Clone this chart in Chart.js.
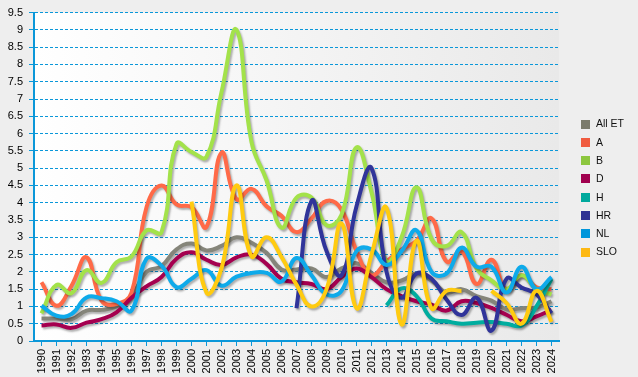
<!DOCTYPE html>
<html>
<head>
<meta charset="utf-8">
<script src="https://cdn.jsdelivr.net/npm/chart.js@4.4.0/dist/chart.umd.min.js"></script>
<style>
  html, body { margin: 0; padding: 0; background: #eeeeee; }
  #wrap { width: 638px; height: 377px; }
</style>
</head>
<body>
<div id="wrap"><canvas id="etChart" width="638" height="377"></canvas></div>
<script>
// Years on the x axis
const years = [];
for (let y = 1990; y <= 2024; y++) years.push(String(y));

// Series names (legend order)
const seriesLabels = ['All ET', 'A', 'B', 'D', 'H', 'HR', 'NL', 'SLO'];

// Values, 1990 -> 2024 (null = no data)
const allEt = [0.65, 0.65, 0.63, 0.88, 0.9, 1.0, 1.3, 2.0, 2.17, 2.65, 2.82, 2.62, 2.75, 3.0, 2.84, 2.55, 2.07, 2.07, 2.1, 1.85,
    2.1, 2.25, 1.97, 1.7, 1.75, 1.95, 1.75, 1.4, 1.5, 1.3, 1.17, 0.92, 0.95, 0.97, 1.15];
const valA = [1.7, 1.02, 1.6, 2.42, 1.17, 1.07, 1.4, 3.87, 4.5, 3.95, 3.87, 3.3, 5.45, 4.1, 4.4, 3.9, 3.62, 3.15, 3.55, 4.05,
    3.8, 2.6, 1.9, 2.3, 2.65, 2.9, 3.55, 2.3, 2.6, 1.65, 2.35, 1.48, 1.9, 1.55, 1.5];
const valB = [0.8, 1.62, 1.38, 2.05, 1.68, 2.28, 2.45, 3.2, 3.15, 5.7, 5.47, 5.33, 7.2, 9.0, 5.75, 4.65, 3.28, 4.15, 4.15, 3.35,
    3.65, 5.6, 4.3, 2.3, 3.0, 4.45, 2.95, 2.75, 3.15, 2.1, 1.75, 1.5, 1.9, 1.5, 1.35];
const valD = [0.45, 0.48, 0.38, 0.53, 0.63, 0.83, 1.25, 1.58, 1.85, 2.38, 2.57, 2.35, 2.2, 2.42, 2.5, 2.23, 1.8, 1.7, 1.65, 1.5,
    1.85, 2.1, 1.85, 1.5, 1.3, 1.15, 1.05, 0.88, 1.15, 1.1, 0.96, 0.76, 0.57, 0.71, 0.9];
const valH = [null, null, null, null, null, null, null, null, null, null, null, null, null, null, null, null, null, null, null, null,
    null, null, null, 1.03, 1.52, 1.3, 0.65, 0.57, 0.5, 0.53, 0.55, 0.5, 0.45, 1.0, 1.8];
const valHR = [null, null, null, null, null, null, null, null, null, null, null, null, null, null, null, null, null, 0.95, 4.05, 2.6,
    1.9, 3.9, 5.0, 2.0, 1.25, 1.95, 1.8, 1.2, 0.75, 1.25, 0.3, 1.8, 1.55, 1.35, 0.8];
const valNL = [1.02, 0.73, 0.78, 1.26, 1.24, 1.15, 0.88, 2.38, 2.18, 1.56, 1.8, 2.05, 1.6, 1.86, 1.97, 1.97, 1.72, 2.4, 1.9, 1.35,
    1.45, 2.6, 2.65, 2.2, 2.6, 3.2, 2.0, 1.95, 2.7, 2.15, 2.15, 1.4, 2.15, 1.5, 1.85];
const valSLO = [null, null, null, null, null, null, null, null, null, null, 4.03, 1.4, 2.1, 4.5, 2.45, 3.0, 2.43, 1.63, 1.0, 1.5,
    3.4, 0.95, 2.5, 3.85, 0.48, 2.9, 0.95, 1.45, 1.45, null, 1.45, 1.1, 0.5, 1.45, 0.55];

// Y axis range
const yMin = 0;
const yMax = 9.5;
const yStep = 0.5;

const allValues = [allEt, valA, valB, valD, valH, valHR, valNL, valSLO];
const lineColors = ['#85857a', '#ff6a48', '#a3e24a', '#a5004f', '#00ad9f', '#30349a', '#0eaaea', '#ffcb10'];
const legendColors = ['#7b7b6b', '#f05b3f', '#8cc63e', '#a0004e', '#00a99d', '#2e3192', '#0096db', '#fdb813'];

const fontFamily = '"Liberation Sans", Arial, sans-serif';
const axisBlue = '#0a97d9';

// Background: grey page, light gradient behind the plot
const backgroundPlugin = {
    id: 'plotBackground',
    beforeDraw(chart) {
        const {ctx, chartArea: a} = chart;
        ctx.save();
        ctx.fillStyle = '#eeeeee';
        ctx.fillRect(0, 0, chart.width, chart.height);
        const g = ctx.createLinearGradient(a.left, 0, a.right, 0);
        g.addColorStop(0, '#ffffff');
        g.addColorStop(1, '#e9e9e9');
        ctx.fillStyle = g;
        ctx.fillRect(a.left, a.top, a.right - a.left, a.bottom - a.top);
        ctx.restore();
    }
};

// Soft drop shadow under each line
const shadowPlugin = {
    id: 'lineShadow',
    beforeDatasetDraw(chart) {
        const ctx = chart.ctx;
        ctx.save();
        ctx.shadowColor = 'rgba(0,0,0,0.3)';
        ctx.shadowBlur = 2;
        ctx.shadowOffsetX = 1.5;
        ctx.shadowOffsetY = 2;
    },
    afterDatasetDraw(chart) {
        chart.ctx.restore();
    }
};

// Legend on the right side
const sideLegendPlugin = {
    id: 'sideLegend',
    afterDraw(chart) {
        const ctx = chart.ctx;
        ctx.save();
        ctx.font = '10.5px ' + fontFamily;
        ctx.textBaseline = 'middle';
        chart.data.datasets.forEach((ds, i) => {
            const y = 124 + i * 18.3;
            ctx.fillStyle = legendColors[i];
            ctx.fillRect(581, Math.round(y - 4.5), 9, 9);
            ctx.fillStyle = '#111111';
            ctx.fillText(ds.label, 596, y + 0.5);
        });
        ctx.restore();
    }
};

const createEtChart = () => {
    const ctx = document.getElementById('etChart').getContext('2d');

    const datasets = seriesLabels.map((label, i) => ({
        label: label,
        data: allValues[i],
        borderColor: lineColors[i],
        backgroundColor: lineColors[i],
        borderWidth: 4,
        pointRadius: 0,
        pointHoverRadius: 0,
        tension: 0.45,
        spanGaps: false,
        fill: false,
        order: seriesLabels.length - i
    }));

    new Chart(ctx, {
        type: 'line',
        data: {
            labels: years,
            datasets: datasets
        },
        options: {
            responsive: false,
            animation: false,
            devicePixelRatio: 1,
            layout: {
                padding: {top: 12, right: 79, left: 0, bottom: 0}
            },
            plugins: {
                legend: {display: false},
                tooltip: {enabled: false}
            },
            scales: {
                x: {
                    offset: true,
                    grid: {
                        drawOnChartArea: false,
                        tickLength: 5,
                        tickColor: axisBlue,
                        color: axisBlue
                    },
                    border: {color: axisBlue, width: 2},
                    ticks: {
                        autoSkip: false,
                        minRotation: 90,
                        maxRotation: 90,
                        padding: 3,
                        color: '#000000',
                        font: {family: fontFamily, size: 11}
                    },
                    afterFit: (scale) => { scale.height = 36; }
                },
                y: {
                    min: yMin,
                    max: yMax,
                    grid: {
                        color: axisBlue,
                        lineWidth: 1,
                        tickLength: 5,
                        tickColor: axisBlue
                    },
                    border: {color: axisBlue, width: 2, dash: [3, 2]},
                    ticks: {
                        stepSize: yStep,
                        padding: 6,
                        color: '#000000',
                        font: {family: fontFamily, size: 11},
                        callback: (value) => String(Number(value.toFixed(1)))
                    },
                    afterFit: (scale) => { scale.width = 34; }
                }
            }
        },
        plugins: [backgroundPlugin, shadowPlugin, sideLegendPlugin]
    });
}

createEtChart();
</script>
</body>
</html>
